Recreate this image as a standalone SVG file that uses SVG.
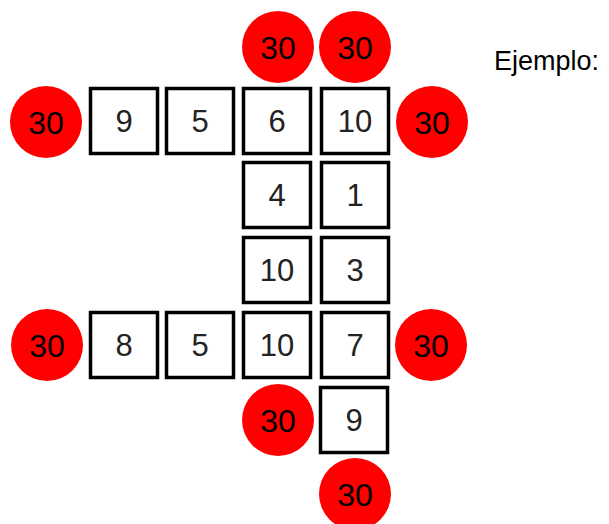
<svg xmlns="http://www.w3.org/2000/svg" width="609" height="524" viewBox="0 0 609 524">
<style>
.b rect{fill:#fff;stroke:#000;stroke-width:3.5}
.b text{font-family:"Liberation Sans",Arial,sans-serif;font-size:31px;fill:#222;text-anchor:middle}
.c circle{fill:#ff0000}
.c text{font-family:"Liberation Sans",Arial,sans-serif;font-size:32px;fill:#000;text-anchor:middle}
.t{font-family:"Liberation Sans",Arial,sans-serif;font-size:27px;fill:#000}
</style>
<rect width="609" height="524" fill="#fff"/>
<g id="connectors"></g>
<g id="b1" class="b"><rect x="90.5" y="88.5" width="67" height="65"/><text x="124" y="132">9</text></g>
<g id="b2" class="b"><rect x="166.5" y="88.5" width="67" height="65"/><text x="200" y="132">5</text></g>
<g id="b3" class="b"><rect x="243.5" y="88.5" width="67" height="65"/><text x="277" y="132">6</text></g>
<g id="b4" class="b"><rect x="321.5" y="88.5" width="67" height="65"/><text x="355" y="132">10</text></g>
<g id="b5" class="b"><rect x="243.5" y="162.5" width="67" height="65"/><text x="277" y="206">4</text></g>
<g id="b6" class="b"><rect x="321.5" y="162.5" width="67" height="65"/><text x="355" y="206">1</text></g>
<g id="b7" class="b"><rect x="243.5" y="237.5" width="67" height="65"/><text x="277" y="281">10</text></g>
<g id="b8" class="b"><rect x="321.5" y="237.5" width="67" height="65"/><text x="355" y="281">3</text></g>
<g id="b9" class="b"><rect x="90.5" y="312.5" width="67" height="65"/><text x="124" y="356">8</text></g>
<g id="b10" class="b"><rect x="166.5" y="312.5" width="67" height="65"/><text x="200" y="356">5</text></g>
<g id="b11" class="b"><rect x="243.5" y="312.5" width="67" height="65"/><text x="277" y="356">10</text></g>
<g id="b12" class="b"><rect x="321.5" y="312.5" width="67" height="65"/><text x="355" y="356">7</text></g>
<g id="b13" class="b"><rect x="320.5" y="387.5" width="67" height="65"/><text x="354" y="431">9</text></g>
<g id="c1" class="c"><circle cx="278" cy="47" r="36"/><text x="278" y="58.5">30</text></g>
<g id="c2" class="c"><circle cx="355" cy="47" r="36"/><text x="355" y="58.5">30</text></g>
<g id="c3" class="c"><circle cx="46" cy="122" r="36"/><text x="46" y="133.5">30</text></g>
<g id="c4" class="c"><circle cx="432" cy="122" r="36"/><text x="432" y="133.5">30</text></g>
<g id="c5" class="c"><circle cx="47" cy="345" r="36"/><text x="47" y="356.5">30</text></g>
<g id="c6" class="c"><circle cx="431" cy="345" r="36"/><text x="431" y="356.5">30</text></g>
<g id="c7" class="c"><circle cx="278" cy="420" r="36"/><text x="278" y="431.5">30</text></g>
<g id="c8" class="c"><circle cx="355" cy="494" r="36"/><text x="355" y="505.5">30</text></g>
<g id="label"><text class="t" x="494" y="70">Ejemplo:</text></g>
</svg>
